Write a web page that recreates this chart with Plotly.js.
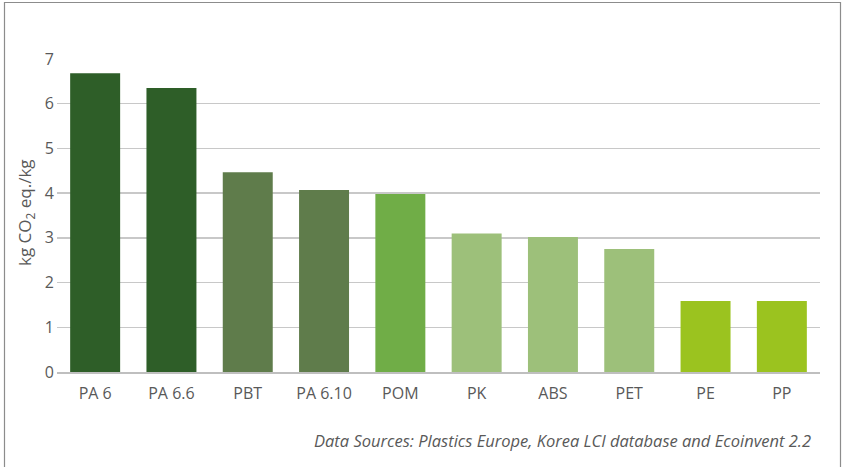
<!DOCTYPE html>
<html>
<head>
<meta charset="utf-8">
<script src="https://cdn.plot.ly/plotly-3.0.1.min.js"></script>
<style>html,body{margin:0;padding:0;background:#fff;}#chart{width:846px;height:467px;}</style>
</head>
<body>
<div id="chart"></div>
<script>
const categories = ["PA 6", "PA 6.6", "PBT", "PA 6.10", "POM", "PK", "ABS", "PET", "PE", "PP"];
const values = [6.68, 6.35, 4.47, 4.07, 3.98, 3.1, 3.02, 2.75, 1.59, 1.59];
const barColors = ["#2e5e28", "#2e5e28", "#5f7c4b", "#5f7c4b", "#70ad47", "#9dc07a", "#9dc07a", "#9dc07a", "#9bc31f", "#9bc31f"];
const yTicks = [0, 1, 2, 3, 4, 5, 6, 7];

const L = 57, R = 26, T = 59, B = 95, W = 846, H = 467;
const pw = W - L - R, ph = H - T - B;
const px = x => (x - L) / pw;
const py = y => (H - B - y) / ph;

Plotly.newPlot('chart', [{
  type: 'bar',
  x: categories,
  y: values,
  marker: {color: barColors},
  hoverinfo: 'x+y'
}], {
  width: W, height: H,
  margin: {l: L, r: R, t: T, b: B},
  paper_bgcolor: '#fff', plot_bgcolor: '#fff',
  bargap: 0.345,
  showlegend: false,
  font: {family: 'Open Sans, Noto Sans, sans-serif', color: '#595959', size: 16},
  xaxis: {
    type: 'category',
    showgrid: false,
    showline: true, linecolor: '#bfbfbf', linewidth: 1.5,
    ticks: '',
    ticklabelstandoff: 6,
    tickfont: {size: 16, color: '#595959'}
  },
  yaxis: {
    range: [0, 7],
    tickvals: yTicks,
    showgrid: true, gridcolor: '#c8c8c8', gridwidth: 1.3,
    zeroline: false,
    showline: false,
    ticks: '',
    ticklabelstandoff: 2,
    tickfont: {size: 16, color: '#595959'}
  },
  annotations: [
    {xref: 'paper', yref: 'paper', x: px(26), y: py(213), text: 'kg CO<sub>2</sub> eq./kg',
     textangle: -90, showarrow: false, xanchor: 'center', yanchor: 'middle',
     font: {size: 17, color: '#595959'}},
    {xref: 'paper', yref: 'paper', x: px(813), y: py(440), text: '<i>Data Sources: Plastics Europe, Korea LCI database and Ecoinvent 2.2</i>',
     showarrow: false, xanchor: 'right', yanchor: 'middle',
     font: {size: 16.5, color: '#595959'}}
  ],
  shapes: [
    {type: 'rect', xref: 'paper', yref: 'paper', x0: px(4.5), x1: px(840.5), y0: py(480), y1: py(2.5),
     line: {color: '#8c8c8c', width: 1.2}, fillcolor: 'rgba(0,0,0,0)'}
  ]
}, {displayModeBar: false, staticPlot: true});
</script>
</body>
</html>
